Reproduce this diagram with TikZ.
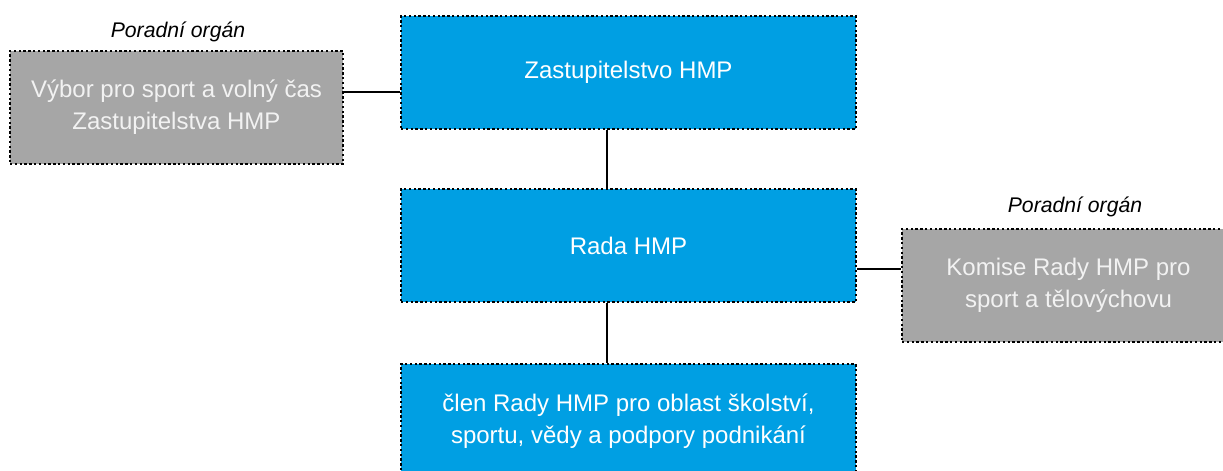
\documentclass[tikz,border=0pt]{standalone}
\usepackage{fontspec}
\setmainfont{Liberation Sans}
\definecolor{boxblue}{HTML}{009FE3}
\definecolor{boxgray}{HTML}{A6A6A6}
\definecolor{graytext}{HTML}{F2F2F2}
\tikzset{
  orgbox/.style={draw=black, line width=1.3pt, dash pattern=on 1.2pt off 1.2pt,
    fill=boxblue, text=white, align=center, inner sep=0pt,
    font=\fontsize{12}{16}\selectfont},
  bluebox/.style={orgbox, minimum width=227.5pt, minimum height=56.5pt},
  graybox/.style={orgbox, fill=boxgray, text=graytext, minimum width=166.5pt, minimum height=56.5pt},
  note/.style={font=\fontsize{10.6}{13}\selectfont\itshape, text=black, inner sep=0pt},
  link/.style={draw=black, line width=0.75pt}
}
\begin{document}
\begin{tikzpicture}[x=0.5pt, y=-0.5pt]
\path[use as bounding box] (0,0) rectangle (1223,471);
\clip (0,0) rectangle (1223,471);
\node[bluebox] (zast) at (628.5,72.5) {Zastupitelstvo HMP};
\node[bluebox] (rada) at (628.5,245.5) {Rada HMP};
\node[bluebox, minimum height=57pt] (clen) at (628.5,421) {člen Rady HMP pro oblast školství,\\sportu, vědy a podpory podnikání};
\node[graybox] (vybor) at (176.5,107.5) {Výbor pro sport a volný čas\\Zastupitelstva HMP};
\node[graybox] (komise) at (1068.5,285.5) {Komise Rady HMP pro\\sport a tělovýchovu};
\node[note] (n1) at (178,32) {Poradní orgán};
\node[note] (n2) at (1075,207) {Poradní orgán};
\coordinate (vx) at (607,0);
\coordinate (ly) at (0,92);
\coordinate (ry) at (0,269);
\draw[link] (zast.south -| vx) -- (rada.north -| vx);
\draw[link] (rada.south -| vx) -- (clen.north -| vx);
\draw[link] (vybor.east |- ly) -- (zast.west |- ly);
\draw[link] (rada.east |- ry) -- (komise.west |- ry);
\end{tikzpicture}
\end{document}
